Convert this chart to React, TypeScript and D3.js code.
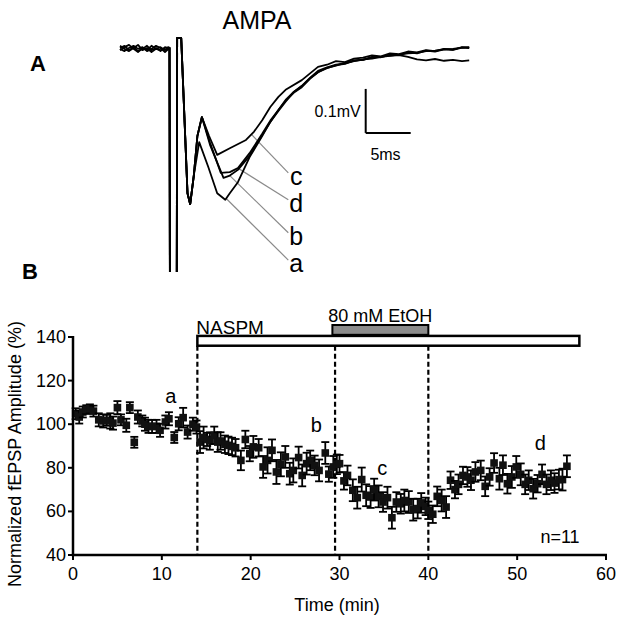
import React from 'react';
import * as d3 from 'd3';

// ---------- Panel B data ----------
const timeMin = [0.3,0.7,1.1,1.5,1.9,2.3,2.9,3.4,3.8,4.2,4.5,5.0,5.4,6.0,6.4,6.9,7.3,7.8,8.1,8.5,8.9,9.4,9.8,10.4,10.8,11.4,11.9,12.4,12.9,13.5,13.9,
  14.3,14.7,15.1,15.4,15.9,16.3,16.6,17.1,17.5,17.9,18.3,18.9,19.4,19.9,20.3,20.9,21.4,21.9,22.4,22.9,23.4,23.9,24.4,24.8,25.4,25.8,26.3,26.7,27.2,27.7,28.4,28.8,29.3,29.7,
  30.0,30.5,30.9,31.5,32.0,32.5,33.0,33.5,33.9,34.4,34.9,35.4,35.9,36.4,36.9,37.3,37.8,38.3,38.8,39.2,39.7,40.0,40.5,41.0,41.5,42.0,
  42.5,43.0,43.4,43.9,44.4,44.8,45.3,45.9,46.4,46.9,47.4,48.0,48.4,48.9,49.4,49.9,50.4,50.9,51.3,51.8,52.3,52.8,53.3,53.8,54.2,54.7,55.1,55.6];
const amplitude = [104.8,103.3,105.6,106.7,107.1,106,102,101.5,101.8,101.5,100.5,107.6,102,99.5,107.6,91.7,103.3,101.5,100,99,99,99,97.2,101,102.5,93.9,100.2,103,96.4,100,98.7,
  91.8,93.9,93,92.3,94.9,91.8,92.3,90.8,90.3,89.8,89.2,83.4,93,86.5,89.6,89.2,80.4,83.4,88,78.1,81.6,85,77.3,78.8,84.7,76.5,81.9,83.4,81.1,78.8,86.8,77.1,80.4,81.6,
  81.9,74,76.5,69.7,66.3,74.6,67.4,66.6,70,66.9,64.3,66.3,57.1,64.3,63.5,65,64.3,60.8,61.3,63.9,62.3,60.5,58.7,66.9,65,62,
  74.3,70,72.4,76.5,75.8,74.3,78.1,78.8,71.5,75.8,82.2,75,81.2,72.7,75.8,80.4,77,72.4,74.3,70.4,72.7,77,72.4,74.3,73,74.6,74.6,80.7];
const sem = [2.5,3,2.5,2,2,2.5,3,3,2.5,3.5,3,3,2.5,3,2.5,2.5,3,2.5,3,3,3,3,3,3,3,2.5,3,4.5,3,3,3,
  5,5,3,4,4,4.5,4,4,4,4,4,4.5,4,3.5,5,4,5,6,5,5.5,5.5,5,5,5.5,5,5,5,4.5,4.5,5,5,3.5,5,4.5,
  4,4,4.5,5,5,5.5,5,5,5,5,4.5,5,5,4.5,4.5,5,5,5,4.5,4.5,4,4,4,4.5,5,5,
  4,4,4.5,4,4.5,4.5,4.5,4.5,4.5,4,4.5,5,4.5,4.5,5,5,5,4.5,4.5,4.5,4,4.5,4.5,4.5,4.5,4.5,5,5];

const xTicks = [0, 10, 20, 30, 40, 50, 60];
const yTicks = [40, 60, 80, 100, 120, 140];
const dashedTimes = [14, 29.5, 40];
const naspmBar = [14, 57];
const etohBar = [29.2, 40];
const pointLabels = ['a', 'b', 'c', 'd'];
const pointLabelT = [11.0, 27.4, 34.8, 52.6];
const pointLabelV = [113, 99.5, 80, 91.5];

// ---------- Panel A traces (ms, mV) ----------
const baseT = [0, 0.5, 1, 1.5, 2, 2.5, 3, 3.5, 4, 4.5, 5, 5.4];
const baseA = [0, 0.005, -0.005, 0.002, -0.007, -0.002, 0.005, -0.005, 0, -0.007, 0.002, -0.002];
const baseB = [-0.005, 0.002, 0.007, -0.002, -0.009, 0, -0.005, 0.005, -0.002, -0.005, 0, 0.002];
const baseC = [0.005, -0.002, -0.007, 0, 0.007, -0.005, 0, -0.009, -0.002, 0.002, -0.005, 0];
const baseD = [-0.002, -0.007, 0, 0.005, -0.002, 0.002, -0.007, -0.002, 0.005, 0, -0.009, -0.002];
const artifactT = [5.5, 5.55, 6.3, 6.35, 6.8, 7.5, 7.8, 8.2];
const artifactV = [0, -0.6, -0.6, 0.023, 0.023, -0.33, -0.355, -0.29];
const tailC: [number, number][] = [[8.6,-0.2],[9.1,-0.157],[9.9,-0.2],[10.8,-0.243],[12.2,-0.228],[14.0,-0.209],[14.9,-0.19],[15.8,-0.164],[16.7,-0.134],[17.6,-0.111],[18.4,-0.095],[20.2,-0.073],[22.0,-0.043],[23,-0.038],[24,-0.03],[25,-0.032],[26,-0.024],[27,-0.022],[28,-0.017],[29,-0.019],[30,-0.012],[31,-0.014],[32,-0.008],[33,-0.01],[34,-0.005],[35,-0.007],[36,-0.002],[37,-0.004],[38,0.001],[38.8,0]];
const tailD: [number, number][] = [[8.6,-0.2],[9.1,-0.157],[10.0,-0.215],[11.2,-0.284],[12.2,-0.282],[13.1,-0.273],[14.4,-0.239],[15.8,-0.195],[16.7,-0.165],[17.6,-0.141],[18.4,-0.12],[19.3,-0.102],[20.2,-0.089],[21.1,-0.07],[22.0,-0.055],[23,-0.045],[24,-0.04],[25,-0.034],[26,-0.029],[27,-0.027],[28,-0.022],[29,-0.02],[30,-0.017],[31,-0.015],[32,-0.012],[33,-0.011],[34,-0.007],[35,-0.006],[36,-0.003],[37,-0.002],[38,0.001],[38.8,0.002]];
const tailB: [number, number][] = [[8.6,-0.2],[9.1,-0.157],[10.0,-0.22],[11.5,-0.295],[12.2,-0.29],[13.1,-0.277],[14.4,-0.245],[15.8,-0.198],[16.7,-0.168],[17.6,-0.143],[18.4,-0.122],[19.3,-0.1],[20.2,-0.086],[21.1,-0.068],[22.0,-0.052],[23,-0.044],[24,-0.038],[25,-0.035],[26,-0.03],[27,-0.026],[28,-0.024],[29,-0.02],[30,-0.018],[31,-0.016],[32,-0.02],[33,-0.026],[34,-0.028],[35,-0.025],[36,-0.029],[37,-0.027],[38,-0.03],[38.8,-0.028]];
const tailA: [number, number][] = [[8.8,-0.214],[9.8,-0.27],[10.8,-0.33],[11.7,-0.345],[12.2,-0.33],[13.1,-0.305],[14.4,-0.248],[15.8,-0.2],[16.7,-0.168],[17.6,-0.141],[18.4,-0.118],[19.3,-0.1],[20.2,-0.087],[21.1,-0.069],[22,-0.055],[23,-0.046],[24,-0.039],[25,-0.036],[26,-0.028],[27,-0.027],[28,-0.02],[29,-0.021],[30,-0.015],[31,-0.016],[32,-0.01],[33,-0.012],[34,-0.006],[35,-0.008],[36,-0.003],[37,-0.004],[38,0.002],[38.8,0.001]];
const traceNames = ['c', 'd', 'b', 'a'];
const leaderStartT = [14.6, 13.1, 12.2, 11.8];
const leaderEndT = [18.7, 18.7, 18.7, 18.7];
const leaderEndV = [-0.284, -0.345, -0.42, -0.482];

const FONT = "'Liberation Sans', Arial, Helvetica, sans-serif";

function buildTrace(base: number[], tail: [number, number][]): [number, number][] {
  const pts: [number, number][] = baseT.map((t, i) => [t, base[i]]);
  artifactT.forEach((t, i) => pts.push([t, artifactV[i]]));
  tail.forEach((p) => pts.push(p));
  return pts;
}

function valueAt(trace: [number, number][], t: number): number {
  const bis = d3.bisector((d: [number, number]) => d[0]).left;
  const i = bis(trace, t);
  if (i <= 0) return trace[0][1];
  if (i >= trace.length) return trace[trace.length - 1][1];
  const a = trace[i - 1], b = trace[i];
  const f = (t - a[0]) / (b[0] - a[0]);
  return a[1] + f * (b[1] - a[1]);
}

export default function App() {
  const x = d3.scaleLinear().domain([0, 60]).range([73, 606]);
  const y = d3.scaleLinear().domain([40, 140]).range([555, 337]);
  const tx = d3.scaleLinear().domain([0, 40]).range([120, 480]);
  const ty = d3.scaleLinear().domain([-0.5, 0]).range([268, 48]);
  const line = d3.line<[number, number]>().x((d) => tx(d[0])).y((d) => ty(d[1]));

  const traces: Record<string, [number, number][]> = {
    c: buildTrace(baseC, tailC),
    d: buildTrace(baseD, tailD),
    b: buildTrace(baseB, tailB),
    a: buildTrace(baseA, tailA),
  };

  const sbT = 27.3, sbV = -0.193; // scale bar corner
  const cap = 4;

  return (
    <svg width={620} height={622} style={{ position: 'absolute', left: 0, top: 0, background: '#fff' }} fontFamily={FONT}>
      <defs>
        <clipPath id="traceClip">
          <rect x={100} y={0} width={400} height={272} />
        </clipPath>
      </defs>
      <rect x={0} y={0} width={620} height={622} fill="#fff" />
      {/* Panel A */}
      <text x={257} y={29} fontSize={25} textAnchor="middle">AMPA</text>
      <text x={38} y={71} fontSize={22} fontWeight="bold" textAnchor="middle">A</text>
      <text x={30} y={279} fontSize={22} fontWeight="bold" textAnchor="middle">B</text>
      {traceNames.map((n, i) => {
        const t0 = leaderStartT[i];
        const v0 = valueAt(traces[n], t0);
        return (
          <line key={'ld' + n} x1={tx(t0)} y1={ty(v0)} x2={tx(leaderEndT[i])} y2={ty(leaderEndV[i])} stroke="#8a8a8a" strokeWidth={1.2} />
        );
      })}
      <g clipPath="url(#traceClip)">
        {traceNames.map((n) => (
          <path key={'tr' + n} d={line(traces[n]) || ''} fill="none" stroke="#000" strokeWidth={1.8} strokeLinejoin="round" />
        ))}
      </g>
      {traceNames.map((n, i) => (
        <text key={'tl' + n} x={tx(leaderEndT[i]) + 8} y={ty(leaderEndV[i]) + 12} fontSize={25} textAnchor="middle">{n}</text>
      ))}
      {/* scale bar */}
      <line x1={tx(sbT)} y1={ty(sbV)} x2={tx(sbT)} y2={ty(sbV + 0.1)} stroke="#000" strokeWidth={2} />
      <line x1={tx(sbT)} y1={ty(sbV)} x2={tx(sbT + 5)} y2={ty(sbV)} stroke="#000" strokeWidth={2} />
      <text x={tx(sbT) - 5} y={ty(sbV + 0.05) + 6} fontSize={16} textAnchor="end">0.1mV</text>
      <text x={tx(sbT + 2.2)} y={ty(sbV) + 27} fontSize={16} textAnchor="middle">5ms</text>

      {/* Panel B */}
      {dashedTimes.map((t) => (
        <line key={'dl' + t} x1={x(t)} x2={x(t)} y1={y(136)} y2={y(40)} stroke="#000" strokeWidth={2.2} strokeDasharray="5,3" />
      ))}
      <rect x={x(naspmBar[0])} y={y(140.5)} width={x(naspmBar[1]) - x(naspmBar[0])} height={y(136) - y(140.5)} fill="#fff" stroke="#000" strokeWidth={2.5} />
      <rect x={x(etohBar[0])} y={y(145.5)} width={x(etohBar[1]) - x(etohBar[0])} height={y(141) - y(145.5)} fill="#8c8c8c" stroke="#000" strokeWidth={2} />
      <text x={x(naspmBar[0]) - 1} y={y(141.2)} fontSize={19}>NASPM</text>
      <text x={(x(etohBar[0]) + x(etohBar[1])) / 2} y={y(147)} fontSize={18} textAnchor="middle">80 mM EtOH</text>

      {/* error bars + points */}
      {timeMin.map((t, i) => {
        const cx = x(t);
        const hi = y(amplitude[i] + sem[i]);
        const lo = y(amplitude[i] - sem[i]);
        return (
          <g key={'p' + i}>
            <line x1={cx} x2={cx} y1={hi} y2={lo} stroke="#000" strokeWidth={1.8} />
            <line x1={cx - cap} x2={cx + cap} y1={hi} y2={hi} stroke="#000" strokeWidth={1.8} />
            <line x1={cx - cap} x2={cx + cap} y1={lo} y2={lo} stroke="#000" strokeWidth={1.8} />
            <rect x={cx - 3.8} y={y(amplitude[i]) - 3.8} width={7.6} height={7.6} fill="#111" />
          </g>
        );
      })}
      {pointLabels.map((l, i) => (
        <text key={'pl' + l} x={x(pointLabelT[i])} y={y(pointLabelV[i]) + 7} fontSize={20} textAnchor="middle">{l}</text>
      ))}
      <text x={560} y={543} fontSize={18} textAnchor="middle">n=11</text>

      {/* axes */}
      <line x1={x(0)} x2={x(0)} y1={y(140) - 1} y2={y(40) + 1.2} stroke="#000" strokeWidth={2.5} />
      <line x1={x(0) - 1.2} x2={x(60) + 1} y1={y(40)} y2={y(40)} stroke="#000" strokeWidth={2.5} />
      {yTicks.map((v) => (
        <g key={'yt' + v}>
          <line x1={x(0) - 5} x2={x(0)} y1={y(v)} y2={y(v)} stroke="#000" strokeWidth={2} />
          <text x={x(0) - 7} y={y(v) + 6} fontSize={18} textAnchor="end">{v}</text>
        </g>
      ))}
      {xTicks.map((v) => (
        <g key={'xt' + v}>
          <line x1={x(v)} x2={x(v)} y1={y(40)} y2={y(40) + 5} stroke="#000" strokeWidth={2} />
          <text x={x(v)} y={y(40) + 25} fontSize={18} textAnchor="middle">{v}</text>
        </g>
      ))}
      <text x={337} y={611} fontSize={18} textAnchor="middle">Time (min)</text>
      <text transform="translate(21,454) rotate(-90)" fontSize={18} textAnchor="middle">Normalized fEPSP Amplitude (%)</text>
    </svg>
  );
}
